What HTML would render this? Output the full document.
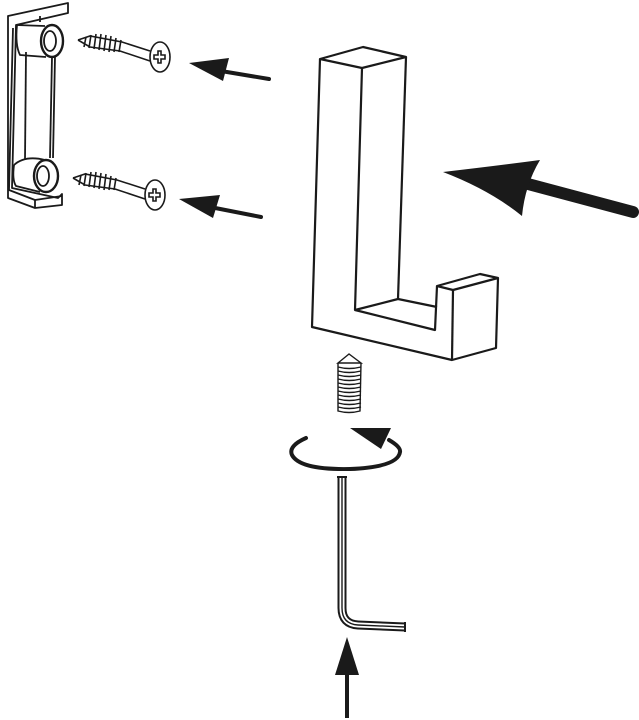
<!DOCTYPE html>
<html><head><style>html,body{margin:0;padding:0;background:#fff}svg{display:block}</style></head><body>
<svg width="639" height="720" viewBox="0 0 639 720" xmlns="http://www.w3.org/2000/svg">
<g fill="none" stroke="#1a1a1a" stroke-width="2.2" stroke-linejoin="round">
<path d="M320,59 L363,47 L406,57 L362,68 Z"/>
<path d="M320,59 L312,327 L452,360 L496,348 L498,278 L480,274 L437,286 L453,290 L498,278"/>
<path d="M453,290 L452,360"/>
<path d="M437,286 L435,330 L355,310 L362,68"/>
<path d="M355,310 L398,299 L437,307"/>
<path d="M406,57 L398,299"/>
</g>
<path d="M633,212 L528,184" stroke="#1a1a1a" stroke-width="12" stroke-linecap="round"/>
<path d="M443,172 Q495,166 540,160 Q525,185 522,216 Q490,190 443,172 Z" fill="#1a1a1a"/>
<g fill="none" stroke="#1a1a1a" stroke-width="1.8" stroke-linejoin="round">
<path d="M8,16 L68,3 L68,13 L16,25 L12,188 L58,198 L62,194 L62,205 L35,208 L8,198 Z"/>
<path d="M13,28 L9,190 L35,200 L35,208"/>
<path d="M35,200 L62,196"/>
<path d="M40,16 L40,22"/>
<path d="M16,25 L45,26"/>
<path d="M17,25 Q15,45 20,55 L46,57"/>
<ellipse cx="52" cy="41" rx="11" ry="16" stroke-width="2.4"/>
<ellipse cx="50" cy="41" rx="6" ry="10"/>
<path d="M26,52 L25,160"/>
<path d="M52,57 L50,158"/>
<path d="M55,56 L53,158"/>
<path d="M14,165 Q12,180 16,186 L40,192"/>
<path d="M14,165 Q25,155 45,160"/>
<ellipse cx="46" cy="176" rx="12" ry="16" stroke-width="2.4"/>
<ellipse cx="43" cy="176" rx="6" ry="10"/>
</g>
<g fill="none" stroke="#1a1a1a" stroke-width="1.6">
<g>
<path d="M78,40 L90,36 L122,42 L150,51"/>
<path d="M78,40 L90,47 L120,51 L150,61"/>
<path d="M86,37 L84,47 M91,35 L89,48 M96,34 L94,49 M101,34 L99,50 M106,35 L104,51 M111,36 L109,52 M116,38 L114,52 M121,40 L119,52"/>
<ellipse cx="160" cy="57" rx="10" ry="15" fill="#fff"/>
<path d="M158,51 L161,51 L161,55 L165,55 L165,59 L161,59 L161,63 L158,63 L158,59 L154,59 L154,55 L158,55 Z"/>
</g>
<g transform="translate(-5,138)">
<path d="M78,40 L90,36 L122,42 L150,51"/>
<path d="M78,40 L90,47 L120,51 L150,61"/>
<path d="M86,37 L84,47 M91,35 L89,48 M96,34 L94,49 M101,34 L99,50 M106,35 L104,51 M111,36 L109,52 M116,38 L114,52 M121,40 L119,52"/>
<ellipse cx="160" cy="57" rx="10" ry="15" fill="#fff"/>
<path d="M158,51 L161,51 L161,55 L165,55 L165,59 L161,59 L161,63 L158,63 L158,59 L154,59 L154,55 L158,55 Z"/>
</g>
</g>
<path d="M215,70 L269,79" stroke="#1a1a1a" stroke-width="4" stroke-linecap="round"/>
<path d="M189,63 L229,58 L223,81 Z" fill="#1a1a1a"/>
<path d="M205,206 L261,217" stroke="#1a1a1a" stroke-width="4" stroke-linecap="round"/>
<path d="M179,199 L220,195 L213,218 Z" fill="#1a1a1a"/>
<g fill="none" stroke="#1a1a1a" stroke-width="1.4">
<path d="M349,354 L338,363 L361,363 Z"/>
<path d="M338,363 L338,411 Q349,414 360,411 L361,363"/>
<path d="M338,367 Q349,370 361,367 M338,371 Q349,374 361,371 M338,375 Q349,378 361,375 M338,379 Q349,382 361,379 M338,383 Q349,386 361,383 M338,387 Q349,390 361,387 M338,391 Q349,394 361,391 M338,395 Q349,398 361,395 M338,399 Q349,402 361,399 M338,403 Q349,406 361,403 M338,407 Q349,410 361,407"/>
</g>
<path d="M306,438 Q288,446 292,455 Q300,470 350,469 Q398,467 400,452 Q401,447 389,440" fill="none" stroke="#1a1a1a" stroke-width="4" stroke-linecap="round"/>
<path d="M350,428 L391,428 L381,449 Z" fill="#1a1a1a"/>
<path d="M342,477 L342,608 Q342,624 358,625 L405,627" fill="none" stroke="#1a1a1a" stroke-width="9"/>
<path d="M342,477 L342,608 Q342,624 358,625 L405,627" fill="none" stroke="#fff" stroke-width="5"/>
<path d="M342,477 L342,608 Q342,624 358,625 L405,627" fill="none" stroke="#1a1a1a" stroke-width="1.4"/>
<path d="M337,477 L347,477 M405,622 L405,632" stroke="#1a1a1a" stroke-width="2"/>
<path d="M347,670 L347,718" stroke="#1a1a1a" stroke-width="4"/>
<path d="M347,637 L335,675 L359,675 Z" fill="#1a1a1a"/>
</svg>
</body></html>
